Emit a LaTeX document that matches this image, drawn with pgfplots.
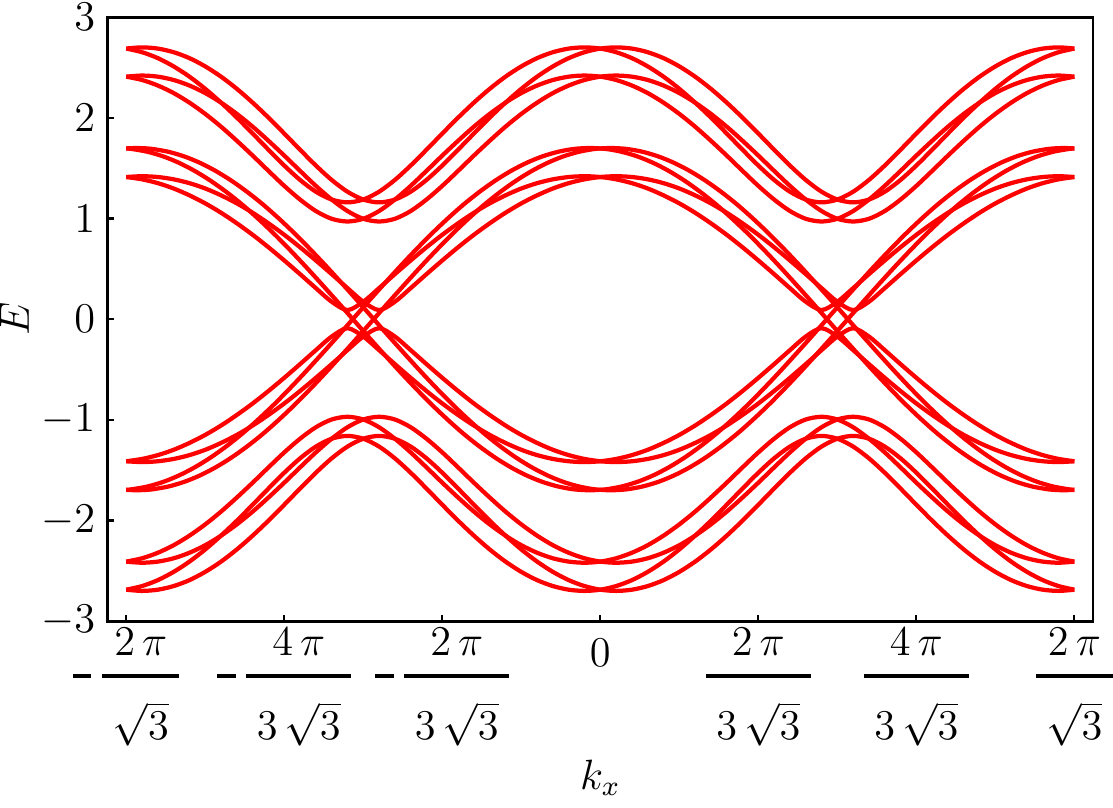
\documentclass[border=0pt]{standalone}
\usepackage{pgfplots}
\usepackage{pgfplotstable}
\pgfplotsset{compat=1.18}
\newcommand{\fr}[2]{\vcenter{\offinterlineskip\halign{\hfil##\hfil\cr
  \vrule height 14.3pt width 0pt\kern3pt$#1$\kern3pt\cr
  \noalign{\kern5.1pt\hrule height 1.1pt\kern5.6pt}
  \vrule height 12pt depth 1.5pt width 0pt\kern3pt$#2$\kern3pt\cr}}}
\newcommand{\sq}{\sqrt{\rule[-1pt]{0pt}{9.5pt}3}}
\newcommand{\mn}{\rule[2.4pt]{5.2pt}{1pt}\kern3pt}
\newcommand{\zl}{\vbox{\hbox{\vrule height 17.2pt width 0pt$0$}}}

% upper bands (Uh, Ul) and gapped middle band (B); x shifted by +-0.12092
\pgfplotstableread{
xp xm Uh Ul B nUh nUl nB
-3.62760 -3.86944 2.688 2.409 1.412 -2.688 -2.409 -1.412
-3.50668 -3.74852 2.700 2.420 1.420 -2.700 -2.420 -1.420
-3.38576 -3.62760 2.688 2.409 1.412 -2.688 -2.409 -1.412
-3.26484 -3.50668 2.652 2.376 1.389 -2.652 -2.376 -1.389
-3.14392 -3.38576 2.593 2.321 1.351 -2.593 -2.321 -1.351
-3.02300 -3.26484 2.511 2.246 1.298 -2.511 -2.246 -1.298
-2.90208 -3.14392 2.409 2.151 1.230 -2.409 -2.151 -1.230
-2.78116 -3.02300 2.288 2.039 1.150 -2.288 -2.039 -1.150
-2.66024 -2.90208 2.151 1.912 1.057 -2.151 -1.912 -1.057
-2.53932 -2.78116 2.002 1.772 0.952 -2.002 -1.772 -0.952
-2.41840 -2.66024 1.844 1.625 0.838 -1.844 -1.625 -0.838
-2.29748 -2.53932 1.683 1.473 0.714 -1.683 -1.473 -0.714
-2.17656 -2.41840 1.526 1.324 0.583 -1.526 -1.324 -0.583
-2.05564 -2.29748 1.383 1.188 0.447 -1.383 -1.188 -0.447
-1.93472 -2.17656 1.266 1.074 0.308 -1.266 -1.074 -0.308
-1.81380 -2.05564 1.188 0.997 0.173 -1.188 -0.997 -0.173
-1.69288 -1.93472 1.160 0.970 0.090 -1.160 -0.970 -0.090
-1.57196 -1.81380 1.188 0.997 0.173 -1.188 -0.997 -0.173
-1.45104 -1.69288 1.266 1.074 0.308 -1.266 -1.074 -0.308
-1.33012 -1.57196 1.383 1.188 0.447 -1.383 -1.188 -0.447
-1.20920 -1.45104 1.526 1.324 0.583 -1.526 -1.324 -0.583
-1.08828 -1.33012 1.683 1.473 0.714 -1.683 -1.473 -0.714
-0.96736 -1.20920 1.844 1.625 0.838 -1.844 -1.625 -0.838
-0.84644 -1.08828 2.002 1.772 0.952 -2.002 -1.772 -0.952
-0.72552 -0.96736 2.151 1.912 1.057 -2.151 -1.912 -1.057
-0.60460 -0.84644 2.288 2.039 1.150 -2.288 -2.039 -1.150
-0.48368 -0.72552 2.409 2.151 1.230 -2.409 -2.151 -1.230
-0.36276 -0.60460 2.511 2.246 1.298 -2.511 -2.246 -1.298
-0.24184 -0.48368 2.593 2.321 1.351 -2.593 -2.321 -1.351
-0.12092 -0.36276 2.652 2.376 1.389 -2.652 -2.376 -1.389
0.00000 -0.24184 2.688 2.409 1.412 -2.688 -2.409 -1.412
0.12092 -0.12092 2.700 2.420 1.420 -2.700 -2.420 -1.420
0.24184 0.00000 2.688 2.409 1.412 -2.688 -2.409 -1.412
0.36276 0.12092 2.652 2.376 1.389 -2.652 -2.376 -1.389
0.48368 0.24184 2.593 2.321 1.351 -2.593 -2.321 -1.351
0.60460 0.36276 2.511 2.246 1.298 -2.511 -2.246 -1.298
0.72552 0.48368 2.409 2.151 1.230 -2.409 -2.151 -1.230
0.84644 0.60460 2.288 2.039 1.150 -2.288 -2.039 -1.150
0.96736 0.72552 2.151 1.912 1.057 -2.151 -1.912 -1.057
1.08828 0.84644 2.002 1.772 0.952 -2.002 -1.772 -0.952
1.20920 0.96736 1.844 1.625 0.838 -1.844 -1.625 -0.838
1.33012 1.08828 1.683 1.473 0.714 -1.683 -1.473 -0.714
1.45104 1.20920 1.526 1.324 0.583 -1.526 -1.324 -0.583
1.57196 1.33012 1.383 1.188 0.447 -1.383 -1.188 -0.447
1.69288 1.45104 1.266 1.074 0.308 -1.266 -1.074 -0.308
1.81380 1.57196 1.188 0.997 0.173 -1.188 -0.997 -0.173
1.93472 1.69288 1.160 0.970 0.090 -1.160 -0.970 -0.090
2.05564 1.81380 1.188 0.997 0.173 -1.188 -0.997 -0.173
2.17656 1.93472 1.266 1.074 0.308 -1.266 -1.074 -0.308
2.29748 2.05564 1.383 1.188 0.447 -1.383 -1.188 -0.447
2.41840 2.17656 1.526 1.324 0.583 -1.526 -1.324 -0.583
2.53932 2.29748 1.683 1.473 0.714 -1.683 -1.473 -0.714
2.66024 2.41840 1.844 1.625 0.838 -1.844 -1.625 -0.838
2.78116 2.53932 2.002 1.772 0.952 -2.002 -1.772 -0.952
2.90208 2.66024 2.151 1.912 1.057 -2.151 -1.912 -1.057
3.02300 2.78116 2.288 2.039 1.150 -2.288 -2.039 -1.150
3.14392 2.90208 2.409 2.151 1.230 -2.409 -2.151 -1.230
3.26484 3.02300 2.511 2.246 1.298 -2.511 -2.246 -1.298
3.38576 3.14392 2.593 2.321 1.351 -2.593 -2.321 -1.351
3.50668 3.26484 2.652 2.376 1.389 -2.652 -2.376 -1.389
3.62760 3.38576 2.688 2.409 1.412 -2.688 -2.409 -1.412
3.74852 3.50668 2.700 2.420 1.420 -2.700 -2.420 -1.420
3.86944 3.62760 2.688 2.409 1.412 -2.688 -2.409 -1.412
}\tabU

% gapless middle band (crosses zero), x shifted by +-0.08
\pgfplotstableread{
xp xm yA nA
-3.62760 -3.78760 -1.696 1.696
-3.54760 -3.70760 -1.700 1.700
-3.46760 -3.62760 -1.696 1.696
-3.42668 -3.58668 -1.691 1.691
-3.30576 -3.46576 -1.663 1.663
-3.18484 -3.34484 -1.617 1.617
-3.06392 -3.22392 -1.553 1.553
-2.94300 -3.10300 -1.472 1.472
-2.82208 -2.98208 -1.375 1.375
-2.70116 -2.86116 -1.263 1.263
-2.58024 -2.74024 -1.138 1.138
-2.45932 -2.61932 -0.999 0.999
-2.33840 -2.49840 -0.850 0.850
-2.21748 -2.37748 -0.691 0.691
-2.09656 -2.25656 -0.525 0.525
-1.97564 -2.13564 -0.353 0.353
-1.85472 -2.01472 -0.178 0.178
-1.73380 -1.89380 0.000 0.000
-1.61288 -1.77288 0.178 -0.178
-1.49196 -1.65196 0.353 -0.353
-1.37104 -1.53104 0.525 -0.525
-1.25012 -1.41012 0.691 -0.691
-1.12920 -1.28920 0.850 -0.850
-1.00828 -1.16828 0.999 -0.999
-0.88736 -1.04736 1.138 -1.138
-0.76644 -0.92644 1.263 -1.263
-0.64552 -0.80552 1.375 -1.375
-0.52460 -0.68460 1.472 -1.472
-0.40368 -0.56368 1.553 -1.553
-0.28276 -0.44276 1.617 -1.617
-0.16184 -0.32184 1.663 -1.663
-0.04092 -0.20092 1.691 -1.691
0.08000 -0.08000 1.700 -1.700
0.20092 0.04092 1.691 -1.691
0.32184 0.16184 1.663 -1.663
0.44276 0.28276 1.617 -1.617
0.56368 0.40368 1.553 -1.553
0.68460 0.52460 1.472 -1.472
0.80552 0.64552 1.375 -1.375
0.92644 0.76644 1.263 -1.263
1.04736 0.88736 1.138 -1.138
1.16828 1.00828 0.999 -0.999
1.28920 1.12920 0.850 -0.850
1.41012 1.25012 0.691 -0.691
1.53104 1.37104 0.525 -0.525
1.65196 1.49196 0.353 -0.353
1.77288 1.61288 0.178 -0.178
1.89380 1.73380 0.000 0.000
2.01472 1.85472 -0.178 0.178
2.13564 1.97564 -0.353 0.353
2.25656 2.09656 -0.525 0.525
2.37748 2.21748 -0.691 0.691
2.49840 2.33840 -0.850 0.850
2.61932 2.45932 -0.999 0.999
2.74024 2.58024 -1.138 1.138
2.86116 2.70116 -1.263 1.263
2.98208 2.82208 -1.375 1.375
3.10300 2.94300 -1.472 1.472
3.22392 3.06392 -1.553 1.553
3.34484 3.18484 -1.617 1.617
3.46576 3.30576 -1.663 1.663
3.58668 3.42668 -1.691 1.691
3.62760 3.46760 -1.696 1.696
3.70760 3.54760 -1.700 1.700
3.78760 3.62760 -1.696 1.696
}\tabA

\begin{document}
\begin{tikzpicture}
\begin{axis}[
  scale only axis, width=279pt, height=171pt,
  xmin=-3.77, xmax=3.77, ymin=-3, ymax=3,
  axis line style={line width=0.8pt},
  tick align=inside, xtick pos=bottom, ytick pos=left,
  major tick length=1.8pt, tick style={black, line width=0.6pt},
  ytick={-3,-2,-1,0,1,2,3},
  xtick={-3.6276,-2.4184,-1.2092,0,1.2092,2.4184,3.6276},
  xticklabels={
    {$\mn\fr{2\,\pi}{\sq}$},
    {$\mn\fr{4\,\pi}{3\,\sq}$},
    {$\mn\fr{2\,\pi}{3\,\sq}$},
    {\zl},
    {$\fr{2\,\pi}{3\,\sq}$},
    {$\fr{4\,\pi}{3\,\sq}$},
    {$\fr{2\,\pi}{\sq}$}},
  tick label style={font=\fontsize{11.5}{13.5}\selectfont},
  xticklabel style={yshift=8pt, inner xsep=0pt},
  yticklabel style={inner ysep=1pt},
  xlabel={$k_x$}, ylabel={$E$},
  label style={font=\large},
  xlabel style={yshift=3pt},
  ylabel style={inner sep=0pt},
  every axis plot post/.append style={red, line width=1.2pt, smooth, mark=none, line join=round, solid},
  restrict x to domain=-3.6277:3.6277,
]
\addplot table[x=xp, y=Uh]{\tabU};
\addplot table[x=xm, y=Uh]{\tabU};
\addplot table[x=xp, y=Ul]{\tabU};
\addplot table[x=xm, y=Ul]{\tabU};
\addplot table[x=xp, y=B]{\tabU};
\addplot table[x=xm, y=B]{\tabU};
\addplot table[x=xp, y=nUh]{\tabU};
\addplot table[x=xm, y=nUh]{\tabU};
\addplot table[x=xp, y=nUl]{\tabU};
\addplot table[x=xm, y=nUl]{\tabU};
\addplot table[x=xp, y=nB]{\tabU};
\addplot table[x=xm, y=nB]{\tabU};
\addplot table[x=xp, y=yA]{\tabA};
\addplot table[x=xm, y=yA]{\tabA};
\addplot table[x=xp, y=nA]{\tabA};
\addplot table[x=xm, y=nA]{\tabA};
\end{axis}
\end{tikzpicture}
\end{document}
